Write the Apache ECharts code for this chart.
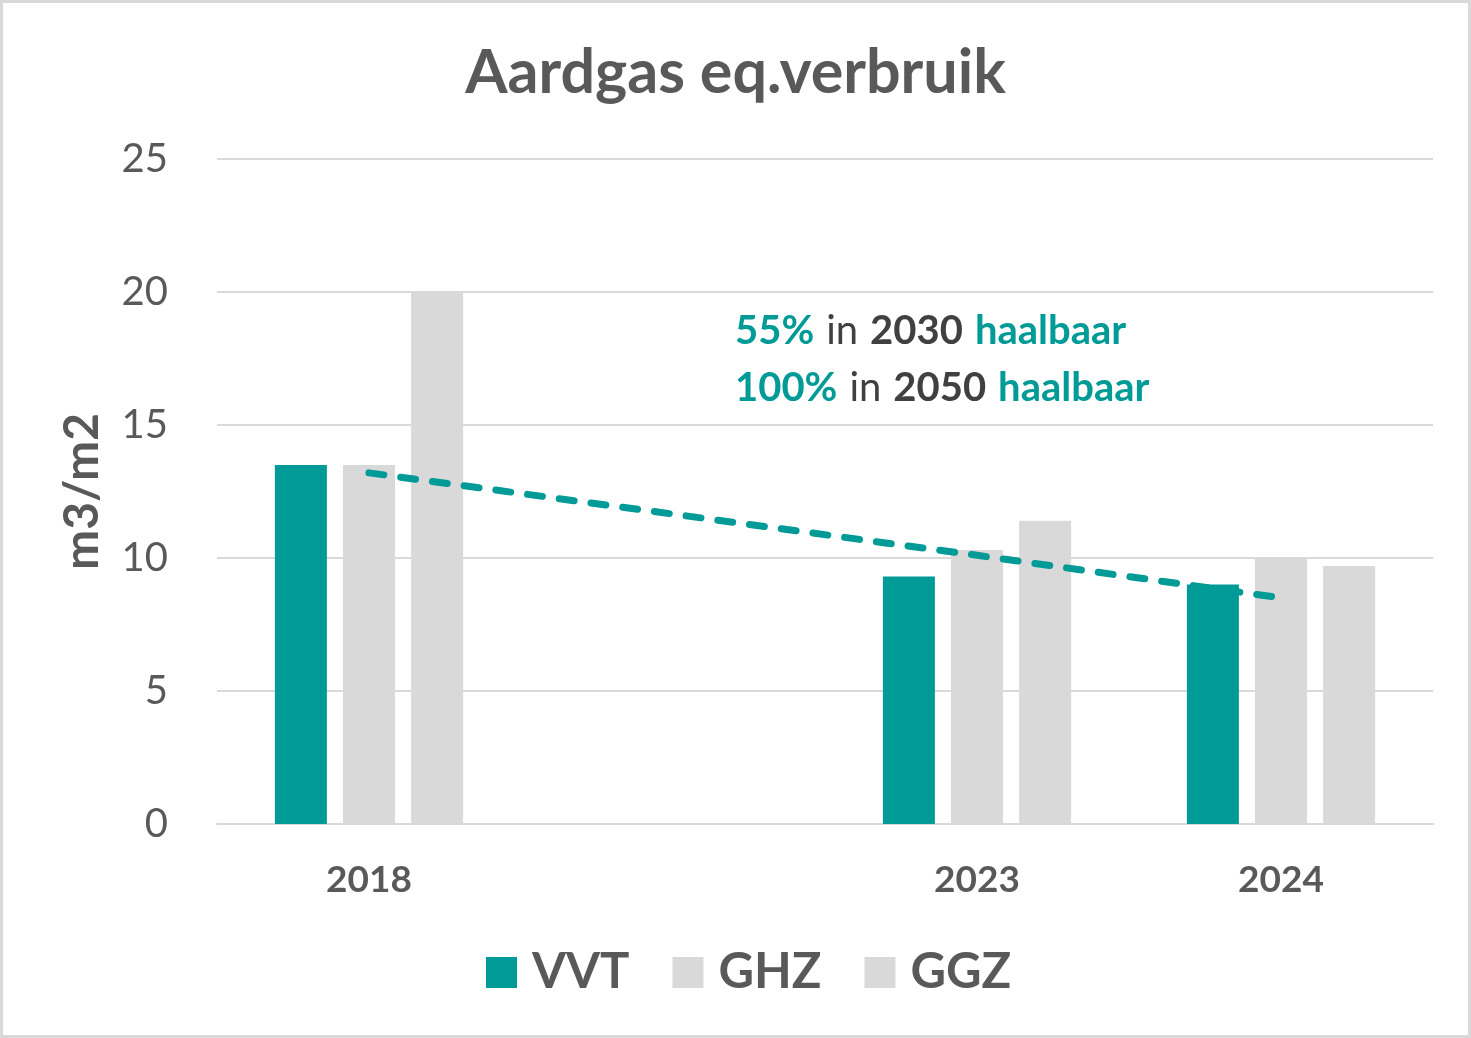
<!DOCTYPE html>
<html>
<head>
<meta charset="utf-8">
<script src="https://cdn.jsdelivr.net/npm/echarts@6/dist/echarts.min.js"></script>
<style>
  html, body { margin: 0; padding: 0; background: #fff; }
  #chart { width: 1471px; height: 1038px; }
</style>
</head>
<body>
<div id="chart"></div>
<script>
  // categories (empty slot keeps the gap between 2018 and 2023)
  const years = ['2018', '', '2023', '2024']
  const vvt = [13.5, null, 9.3, 9.0]
  const ghz = [13.5, null, 10.3, 10.0]
  const ggz = [20.0, null, 11.4, 9.7]
  // dashed trend line
  const trend = [13.2, null, 10.1, 8.5]
  const yTicks = [0, 5, 10, 15, 20, 25]

  const teal = '#009a97'
  const grey = '#d9d9d9'
  const textGrey = '#595959'
  const font = 'Lato'

  const chart = echarts.init(document.getElementById('chart'))
  chart.setOption({
    backgroundColor: '#fff',
    animation: false,
    textStyle: { fontFamily: font },
    title: {
      text: 'Aardgas eq.verbruik',
      left: 'center',
      top: 38,
      textStyle: { fontFamily: font, fontSize: 61, fontWeight: 'bold', color: textGrey },
    },
    grid: { left: 217, right: 38, top: 159, bottom: 214 },
    legend: {
      data: ['VVT', 'GHZ', 'GGZ'],
      left: 481,
      top: 943,
      icon: 'rect',
      itemWidth: 31,
      itemHeight: 31,
      itemGap: 43,
      textStyle: { fontFamily: font, fontSize: 49, fontWeight: 'bold', color: textGrey, padding: [0, 0, 0, 10] },
    },
    xAxis: {
      type: 'category',
      data: years,
      axisTick: { show: false },
      axisLine: { lineStyle: { color: grey, width: 2 } },
      axisLabel: { margin: 38, fontFamily: font, fontSize: 37, fontWeight: 'bold', color: textGrey },
    },
    yAxis: {
      type: 'value',
      min: yTicks[0],
      max: yTicks[yTicks.length - 1],
      interval: 5,
      name: 'm3/m2',
      nameLocation: 'middle',
      nameGap: 110,
      nameTextStyle: { fontFamily: font, fontSize: 48, fontWeight: 'bold', color: textGrey },
      axisLine: { show: false },
      axisTick: { show: false },
      splitLine: { lineStyle: { color: grey, width: 2 } },
      axisLabel: { margin: 49, fontFamily: font, fontSize: 40, color: textGrey },
    },
    series: [
      { name: 'VVT', type: 'bar', data: vvt, barWidth: 52, barGap: '31%', itemStyle: { color: teal } },
      { name: 'GHZ', type: 'bar', data: ghz, barWidth: 52, barGap: '31%', itemStyle: { color: grey } },
      { name: 'GGZ', type: 'bar', data: ggz, barWidth: 52, barGap: '31%', itemStyle: { color: grey } },
      {
        name: 'trend',
        type: 'line',
        data: trend,
        connectNulls: true,
        symbol: 'none',
        z: 5,
        lineStyle: { color: teal, width: 7, type: [15, 17], cap: 'round' },
      },
    ],
    graphic: [
      {
        type: 'rect',
        shape: { x: 1.5, y: 1.5, width: 1468, height: 1035 },
        style: { fill: 'none', stroke: grey, lineWidth: 3 },
        silent: true,
      },
      {
        type: 'text',
        left: 735,
        top: 311,
        style: {
          text: '{t|55%}{s| }{n|in}{s| }{d|2030}{s| }{t|haalbaar}\n{t|100%}{s| }{n|in}{s| }{d|2050}{s| }{t|haalbaar}',
          rich: {
            t: { fontFamily: font, fontSize: 40, fontWeight: 'bold', fill: teal, lineHeight: 57 },
            n: { fontFamily: font, fontSize: 40, fill: '#404040', lineHeight: 57 },
            d: { fontFamily: font, fontSize: 40, fontWeight: 'bold', fill: '#404040', lineHeight: 57 },
            s: { fontFamily: font, fontSize: 40, width: 12, lineHeight: 57 },
          },
        },
      },
    ],
  })
</script>
</body>
</html>
